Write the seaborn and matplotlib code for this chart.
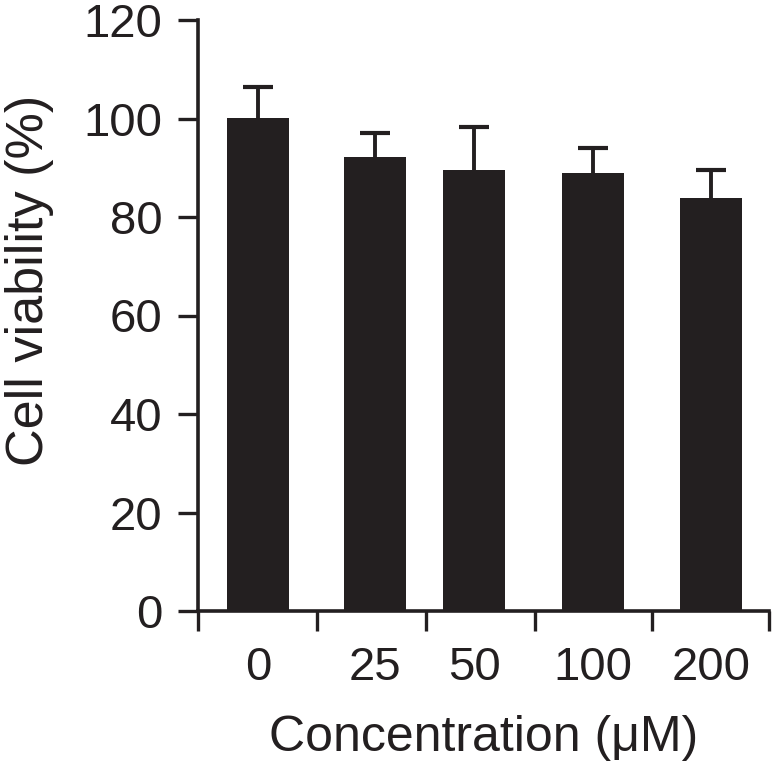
import numpy as np
import seaborn as sns
import matplotlib
matplotlib.use("Agg")
import matplotlib.pyplot as plt

# data
concentrations = ["0", "25", "50", "100", "200"]
viability = [100.1, 92.2, 89.5, 89.0, 83.9]
viability_sd = [6.3, 4.8, 8.8, 5.0, 5.7]

# layout: bar centres and the boundary ticks of the (uneven) x axis
bar_x = [0.504, 1.49, 2.32, 3.32, 4.31]
group_edges = [0.0, 1.0, 1.916, 2.832, 3.815, 4.798]
bar_width = 0.52

sns.set_theme(style="ticks")
plt.rcParams["font.family"] = ["Liberation Sans", "DejaVu Sans"]

ink = "#231f20"

fig = plt.figure(figsize=(7.72, 7.68), dpi=100)
ax = fig.add_axes([198 / 772, 157 / 768, 571 / 772, 591 / 768])

min_gap = np.min(np.diff(bar_x))
sns.barplot(x=bar_x, y=viability, native_scale=True, color=ink, saturation=1,
            width=bar_width / min_gap, linewidth=0, errorbar=None, ax=ax)
eb = ax.errorbar(bar_x, viability, yerr=[np.zeros(len(viability_sd)), viability_sd],
                 fmt="none", ecolor=ink, elinewidth=2.8, capsize=11, capthick=3)
# only the upper cap is drawn in the reference
for cap in eb.lines[1]:
    if np.allclose(cap.get_ydata(), viability):
        cap.set_visible(False)

ax.set_xlim(group_edges[0], group_edges[-1])
ax.set_ylim(0, 120)
ax.set_yticks(range(0, 121, 20))

ax.set_xticks(group_edges)
ax.set_xticklabels([])
ax.set_xticks(bar_x, minor=True)
ax.set_xticklabels(concentrations, minor=True)

for side in ["top", "right"]:
    ax.spines[side].set_visible(False)
for side in ["left", "bottom"]:
    ax.spines[side].set_linewidth(2.6)
    ax.spines[side].set_color(ink)

ax.tick_params(axis="both", which="major", length=14.5, width=2.4, color=ink,
               labelsize=34, labelcolor=ink, pad=11)
ax.tick_params(axis="x", which="minor", length=0, labelsize=34,
               labelcolor=ink, pad=25.5)

ax.set_xlabel("Concentration (\u03bcM)", fontsize=36, color=ink, labelpad=18)
ax.set_ylabel("Cell viability (%)", fontsize=37.5, color=ink)
ax.yaxis.set_label_coords(-0.252, 0.56)

fig.savefig("out.png", dpi=100)
